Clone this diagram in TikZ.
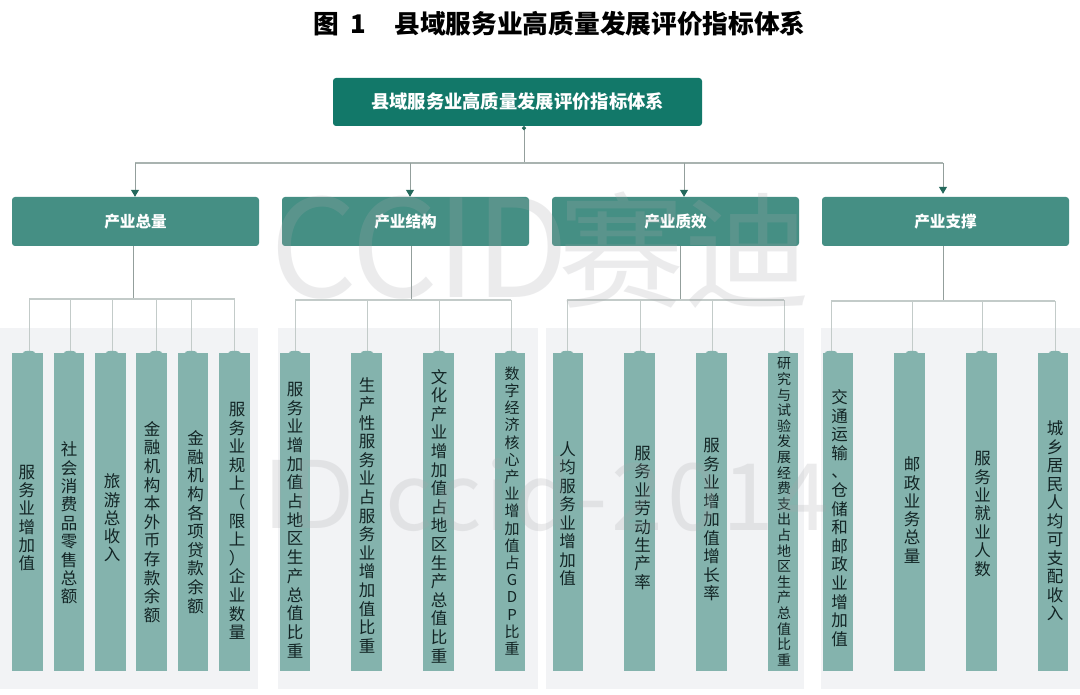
\documentclass[tikz,border=0pt]{standalone}
\usepackage{fontspec}
\setmainfont{Noto Sans CJK SC}
\usetikzlibrary{arrows.meta}
\definecolor{rootc}{HTML}{127869}
\definecolor{midc}{HTML}{458F84}
\definecolor{leafc}{HTML}{84B3AD}
\definecolor{panelc}{HTML}{F2F3F5}
\definecolor{stemc}{HTML}{939F9C}
\definecolor{busc}{HTML}{C3CBC9}
\definecolor{topbus}{HTML}{A9B3B0}
\definecolor{arrowc}{HTML}{24695C}
\definecolor{inkc}{HTML}{122424}
\definecolor{markc}{HTML}{A8A8AC}
\def\vend{\vend}
\def\vloop#1{\ifx#1\vend\else\hbox to 1.2em{\hss#1\hss}\expandafter\vloop\fi}
\newcommand\vchars[3]{\fontsize{#2}{#1}\selectfont\vbox{\baselineskip=#1pt\lineskip=0pt\vloop#3\vend}}
% name, x1, x2, text x, text y, pitch, font size, characters
\newcommand\leafnode[8]{%
  \node[leafbox,minimum width=#3pt-#2pt] (#1) at ({(#2+#3)/2},512) {};
  \node[leaftext] (t#1) at (#4,#5) {\vchars{#6}{#7}{#8}};}
\tikzset{
  panel/.style={fill=panelc,draw=none},
  rootbox/.style={fill=rootc,rounded corners=3pt,minimum width=369pt,minimum height=48pt,inner sep=0,text=white,font=\fontsize{18.3}{20}\selectfont\bfseries},
  midbox/.style={fill=midc,rounded corners=3pt,minimum width=247pt,minimum height=49pt,inner sep=0,text=white,font=\fontsize{15.6}{18}\selectfont\bfseries},
  leafbox/.style={fill=leafc,minimum height=318pt,inner sep=0},
  leaftext/.style={inner sep=0,text=inkc},
  topline/.style={draw=topbus,line width=1.1pt},
  downarrow/.style={draw=stemc,line width=1pt,-{Triangle[length=7pt,width=8pt,color=arrowc]}},
  stem/.style={draw=stemc,line width=1pt},
  bus/.style={draw=busc,line width=1.1pt},
  drop/.style={draw=busc,line width=1pt,shorten >=-1pt,-{Ellipse[length=3pt,width=11pt,color=leafc]}},
  wmark/.style={inner sep=0,text=markc,opacity=.22,anchor=west},
}
\begin{document}
\begin{tikzpicture}[x=1pt,y=-1pt]
\useasboundingbox (0,0) rectangle (1080,695);
\fill[white] (0,0) rectangle (1080,695);
% panels
\fill[panel] (0,328) rectangle (258,689);
\fill[panel] (278,328) rectangle (538,689);
\fill[panel] (546,328) rectangle (804,689);
\fill[panel] (821,328) rectangle (1080,689);
% title
\node[inner sep=0,font=\fontsize{25.7}{28}\selectfont\bfseries] (title) at (559.5,24) {图\hspace{0.45em}1\hspace{1.1em}县域服务业高质量发展评价指标体系};
% boxes
\node[rootbox] (root) at (517.5,102) {县域服务业高质量发展评价指标体系};
\node[midbox] (m1) at (135.5,221.5) {产业总量};
\node[midbox] (m2) at (405.5,221.5) {产业结构};
\node[midbox] (m3) at (675.5,221.5) {产业质效};
\node[midbox] (m4) at (945.5,221.5) {产业支撑};
% leaves
\leafnode{a}{12}{43}{27}{518}{18.3}{16.5}{服务业增加值}
\leafnode{b}{54}{84}{69}{523}{18.4}{16.5}{社会消费品零售总额}
\leafnode{c}{95}{126}{112}{518}{18.2}{16.5}{旅游总收入}
\leafnode{d}{136}{167}{152}{522}{18.6}{16.5}{金融机构本外币存款余额}
\leafnode{e}{178}{208}{195.5}{522}{18.6}{16.5}{金融机构各项贷款余额}
\leafnode{f}{219}{250}{237}{521}{18.6}{16.5}{服务业规上（限上）企业数量}
\leafnode{g}{280}{310}{295}{520}{18.7}{16.5}{服务业增加值占地区生产总值比重}
\leafnode{h}{351}{382}{367}{515.5}{18.6}{16.5}{生产性服务业占服务业增加值比重}
\leafnode{i}{423}{453.5}{439}{516}{18.6}{16.5}{文化产业增加值占地区生产总值比重}
\leafnode{j}{495}{525}{512}{511}{17.2}{15}{数字经济核心产业增加值占GDP比重}
\leafnode{k}{553}{583}{567.5}{514}{18.5}{16.5}{人均服务业增加值}
\leafnode{l}{624}{655}{642.5}{518}{18.4}{16.5}{服务业劳动生产率}
\leafnode{m}{696}{727}{711.5}{520}{18.5}{16.5}{服务业增加值增长率}
\leafnode{n}{768}{798}{784}{512}{15.6}{14}{研究与试验发展经费支出占地区生产总值比重}
\leafnode{o}{823}{853}{839.5}{518}{18.6}{16.5}{交通运输、仓储和邮政业增加值}
\leafnode{p}{894}{925}{912}{510}{18.3}{16.5}{邮政业务总量}
\leafnode{q}{966}{997}{982.5}{514}{18.4}{16.5}{服务业就业人数}
\leafnode{r}{1038}{1068}{1055}{521}{18.5}{16.5}{城乡居民人均可支配收入}
% top connectors
\coordinate (tbus) at (524,163);
\coordinate (a1) at (135,163);
\coordinate (a2) at (410,163);
\coordinate (a3) at (684,163);
\coordinate (a4) at (943,163);
\draw[stem,{Circle[length=4pt,width=4pt,color=arrowc]}-] (tbus |- root.south) -- (tbus);
\draw[topline] (a1) -- (a4);
\draw[downarrow] (a1) -- (a1 |- m1.north);
\draw[downarrow] (a2) -- (a2 |- m2.north);
\draw[downarrow] (a3) -- (a3 |- m3.north);
\draw[downarrow,shorten >=3pt] (a4) -- (a4 |- m4.north);
% group 1
\coordinate (s1) at (133,299);
\draw[stem] (s1 |- m1.south) -- (s1);
\draw[bus] (29,299) -- (234.5,299);
\foreach \n/\x in {a/29,b/70,c/112,d/156,e/191,f/234.5}
  \draw[drop] (\x,299) -- (\x,299 |- \n.north);
% group 2
\coordinate (s2) at (411,300);
\draw[stem] (s2 |- m2.south) -- (s2);
\draw[bus] (295,300) -- (511,300);
\foreach \n/\x in {g/295,h/367,i/439,j/511}
  \draw[drop] (\x,300) -- (\x,300 |- \n.north);
% group 3
\coordinate (s3) at (680,300);
\draw[stem] (s3 |- m3.south) -- (s3);
\draw[bus] (567,300) -- (784,300);
\foreach \n/\x in {k/567,l/640,m/712,n/784}
  \draw[drop] (\x,300) -- (\x,300 |- \n.north);
% group 4
\coordinate (s4) at (943,301);
\draw[stem] (s4 |- m4.south) -- (s4);
\draw[bus] (831,301) -- (1055,301);
\foreach \n/\x in {o/831,p/912,q/982,r/1055}
  \draw[drop] (\x,301) -- (\x,301 |- \n.north);
% watermark
\node[wmark,font=\fontsize{136}{150}\selectfont] (w1) at (270,248) {\addfontfeature{LetterSpace=-1}CCID};
\node[wmark,font=\fontsize{126}{150}\selectfont] (w2) at (558,250) {赛迪};
\node[wmark,font=\fontsize{93}{100}\selectfont] (w3) at (263,494) {ID};
\node[wmark,font=\fontsize{93}{100}\selectfont] (w4) at (385,494) {\addfontfeature{LetterSpace=4}ccid-2014};
\end{tikzpicture}
\end{document}
